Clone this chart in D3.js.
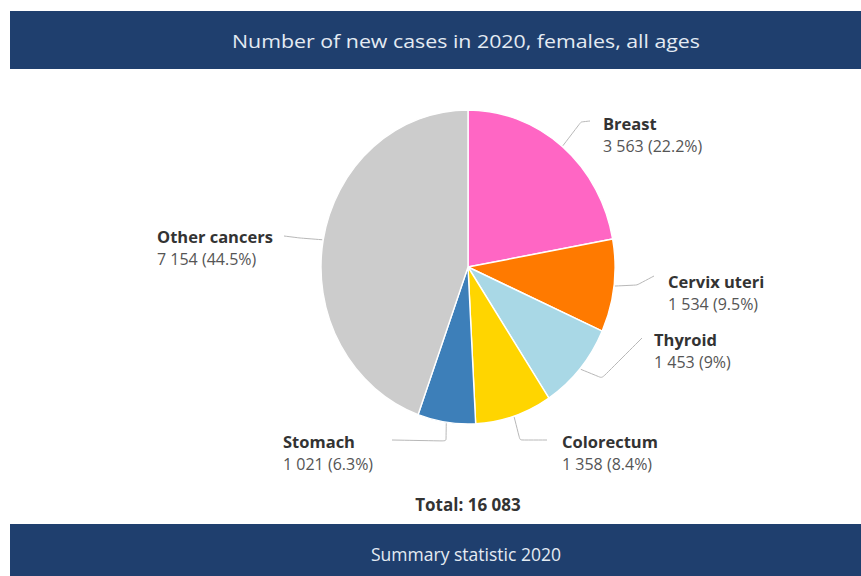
<!DOCTYPE html>
<html>
<head>
<meta charset="utf-8">
<script src="https://cdn.jsdelivr.net/npm/d3@7"></script>
<style>
  html, body { margin: 0; padding: 0; background: #ffffff; }
  svg { display: block; }
</style>
</head>
<body>
<svg id="chart" width="861" height="576"></svg>
<script>
// ---- data ----
const categories = ["Breast", "Cervix uteri", "Thyroid", "Colorectum", "Stomach", "Other cancers"];
const values = [3563, 1534, 1453, 1358, 1021, 7154];
const percents = ["22.2%", "9.5%", "9%", "8.4%", "6.3%", "44.5%"];
const colors = ["#ff66c4", "#ff7a00", "#a9d8e6", "#ffd500", "#3d7fb9", "#cccccc"];
const titleText = "Number of new cases in 2020, females, all ages";
const footerText = "Summary statistic 2020";
const totalLabel = "Total: 16 083";

// ---- layout (positions only) ----
const W = 861, H = 576;
const cx = 468, cy = 267, rx = 147, ry = 157;
const labelLayout = [
  { tx: 603, ty: 130, end: [590, 121], elbow: [581, 122] },
  { tx: 668, ty: 288, end: [654, 276], elbow: [637, 285] },
  { tx: 654, ty: 346, end: [642, 338], elbow: [602, 378] },
  { tx: 562, ty: 448, end: [547, 440], elbow: [520, 440] },
  { tx: 283, ty: 448, end: [392, 440], elbow: [446, 441] },
  { tx: 157, ty: 243, end: [284, 236], elbow: [300, 238] }
];

const fmt = v => d3.format(",")(v).replace(/,/g, " ");

const svg = d3.select("#chart");

// banners
svg.append("rect").attr("x", 10).attr("y", 11).attr("width", W - 10).attr("height", 58).attr("fill", "#1f3f6e");
svg.append("text").attr("x", 466).attr("y", 48).attr("text-anchor", "middle")
  .attr("font-family", "Open Sans").attr("font-size", 18).attr("fill", "#e4ebf3")
  .attr("textLength", 468).attr("lengthAdjust", "spacingAndGlyphs")
  .text(titleText);

svg.append("rect").attr("x", 10).attr("y", 524).attr("width", W - 10).attr("height", H - 524).attr("fill", "#1f3f6e");
svg.append("text").attr("x", 466).attr("y", 561).attr("text-anchor", "middle")
  .attr("font-family", "Open Sans").attr("font-size", 18).attr("fill", "#e4ebf3")
  .attr("textLength", 190).attr("lengthAdjust", "spacingAndGlyphs")
  .text(footerText);

// pie
const data = categories.map((c, i) => ({ name: c, value: values[i], pct: percents[i], color: colors[i], lay: labelLayout[i] }));
const pie = d3.pie().value(d => d.value).sort(null);
const arcs = pie(data);
const arc = d3.arc().innerRadius(0).outerRadius(ry);

const g = svg.append("g").attr("transform", `translate(${cx},${cy}) scale(${rx / ry},1)`);
g.selectAll("path").data(arcs).join("path")
  .attr("d", arc)
  .attr("fill", d => d.data.color)
  .attr("stroke", "#ffffff")
  .attr("stroke-width", 1.5)
  .attr("stroke-linejoin", "round");

// connectors
const line = d3.line().curve(d3.curveBasis);
svg.append("g").selectAll("path").data(arcs).join("path")
  .attr("d", d => {
    const a = (d.startAngle + d.endAngle) / 2;
    const p0 = [cx + (rx + 1) * Math.sin(a), cy - (ry + 1) * Math.cos(a)];
    const e = d.data.lay.elbow, t = d.data.lay.end;
    return line([p0, e, e, t]);
  })
  .attr("fill", "none")
  .attr("stroke", "#b8b8b8")
  .attr("stroke-width", 1);

// labels
const lbl = svg.append("g").selectAll("g").data(arcs).join("g");
lbl.append("text")
  .attr("x", d => d.data.lay.tx).attr("y", d => d.data.lay.ty)
  .attr("font-family", "Open Sans").attr("font-weight", "bold").attr("font-size", 16.5)
  .attr("fill", "#333333")
  .text(d => d.data.name);
lbl.append("text")
  .attr("x", d => d.data.lay.tx).attr("y", d => d.data.lay.ty + 22)
  .attr("font-family", "Open Sans").attr("font-size", 16)
  .attr("fill", "#555555")
  .text(d => `${fmt(d.data.value)} (${d.data.pct})`);

// total
svg.append("text").attr("x", 468).attr("y", 511).attr("text-anchor", "middle")
  .attr("font-family", "Open Sans").attr("font-weight", "bold").attr("font-size", 17)
  .attr("fill", "#333333")
  .text(totalLabel);
</script>
</body>
</html>
